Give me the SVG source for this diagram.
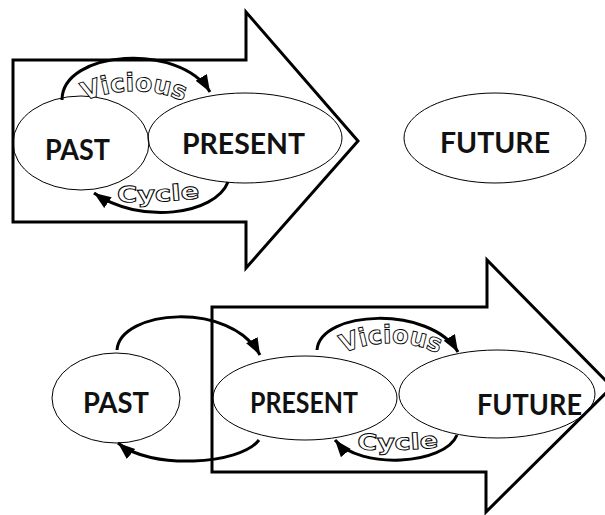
<svg xmlns="http://www.w3.org/2000/svg" xmlns:xlink="http://www.w3.org/1999/xlink" width="605" height="515" viewBox="0 0 605 515">
  <style>
    .stage { fill: none; stroke: #000; stroke-width: 3; stroke-linejoin: miter; }
    .node ellipse { fill: none; stroke: #000; stroke-width: 1; }
    .node text { font-family: Lato, "Liberation Sans", sans-serif; font-weight: bold; font-size: 28px; fill: #111; text-anchor: middle; }
    .link { fill: none; stroke: #000; stroke-width: 3; marker-end: url(#head); }
    .word { font-family: "DejaVu Sans", "Liberation Sans", sans-serif; font-weight: bold; font-size: 25px; fill: #fff; stroke: #000; stroke-width: 0.9; }
    .word.small { font-size: 22px; }
  </style>
  <defs>
    <marker id="head" markerUnits="userSpaceOnUse" markerWidth="18" markerHeight="14" refX="17" refY="6.5" orient="auto">
      <path d="M0,0 L17,6.5 L0,13 Z" fill="#000"/>
    </marker>
    <path id="vic1" d="M80,103 Q134,79 188,103"/>
    <path id="cyc1" d="M116,202 Q158,203 201,198"/>
    <path id="vic2" d="M340,355 Q390,331 442,355"/>
    <path id="cyc2" d="M356,449 Q397,452 440,447"/>
  </defs>

  <!-- big stage arrows -->
  <g id="stage-top">
    <path class="stage" d="M13,60 L246,60 L246,12 L358,141 L246,268 L246,222 L13,222 Z"/>
  </g>
  <g id="stage-bottom">
    <path class="stage" d="M212,307 L487,307 L487,260 L612,387 L486,512 L486,472 L212,472 Z"/>
  </g>

  <!-- upper row -->
  <g id="past-1" class="node">
    <ellipse cx="81" cy="143" rx="68" ry="47"/>
    <text x="77.5" y="160" textLength="65" lengthAdjust="spacingAndGlyphs">PAST</text>
  </g>
  <g id="present-1" class="node">
    <ellipse cx="245" cy="138" rx="97" ry="45"/>
    <text x="243.5" y="154" textLength="123" lengthAdjust="spacingAndGlyphs">PRESENT</text>
  </g>
  <g id="future-1" class="node">
    <ellipse cx="495" cy="138" rx="91" ry="45"/>
    <text x="495" y="153" textLength="110" lengthAdjust="spacingAndGlyphs">FUTURE</text>
  </g>

  <!-- lower row -->
  <g id="past-2" class="node">
    <ellipse cx="116" cy="398" rx="64" ry="45"/>
    <text x="116" y="413" textLength="66" lengthAdjust="spacingAndGlyphs">PAST</text>
  </g>
  <g id="present-2" class="node">
    <ellipse cx="305" cy="398" rx="92" ry="42"/>
    <text x="304" y="413" textLength="108" lengthAdjust="spacingAndGlyphs">PRESENT</text>
  </g>
  <g id="future-2" class="node">
    <ellipse cx="497" cy="394" rx="98" ry="44"/>
    <text x="529.5" y="415" textLength="105" lengthAdjust="spacingAndGlyphs">FUTURE</text>
  </g>

  <!-- cycle connectors and their labels -->
  <g id="connectors">
    <path class="link" d="M62,100 C62,50 180,42 210,92"/>
    <path class="link" d="M228,182 C215,215 140,225 94,193"/>
    <path class="link" d="M117,350 C120,310 230,300 260,355"/>
    <path class="link" d="M259,440 C240,465 150,470 118,443"/>
    <path class="link" d="M317,350 C320,310 430,305 458,352"/>
    <path class="link" d="M457,435 C445,465 360,470 335,440"/>

    <text class="word"><textPath xlink:href="#vic1" startOffset="50%" text-anchor="middle" textLength="102" lengthAdjust="spacingAndGlyphs">Vicious</textPath></text>
    <text class="word small"><textPath xlink:href="#cyc1" startOffset="50%" text-anchor="middle" textLength="83" lengthAdjust="spacingAndGlyphs">Cycle</textPath></text>
    <text class="word"><textPath xlink:href="#vic2" startOffset="50%" text-anchor="middle" textLength="98" lengthAdjust="spacingAndGlyphs">Vicious</textPath></text>
    <text class="word small"><textPath xlink:href="#cyc2" startOffset="50%" text-anchor="middle" textLength="82" lengthAdjust="spacingAndGlyphs">Cycle</textPath></text>
  </g>
</svg>
